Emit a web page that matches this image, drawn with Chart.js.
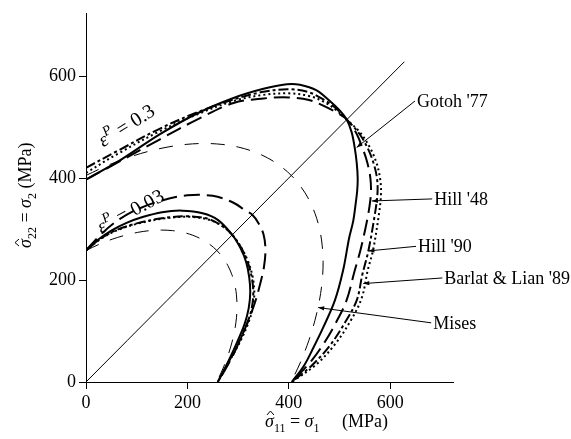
<!DOCTYPE html>
<html>
<head>
<meta charset="utf-8">
<script src="https://cdn.jsdelivr.net/npm/chart.js@4.4.0/dist/chart.umd.min.js"></script>
<style>
  html, body { margin: 0; padding: 0; background: #fff; }
</style>
</head>
<body>
<canvas id="locus" width="571" height="439"></canvas>
<script>
// axis ticks (MPa)
var tickValues = [0, 200, 400, 600];

// yield loci at eps_p = 0.03, points are [sigma1, sigma2]
var gotohInner = [[0,258],[25,280],[50,297],[80,312],[110,323],[150,333],[190,336],[230,331],[260,318],[289,288],[305,262],[316,235],[322,205],[324,175],[321,145],[313,114],[302,87],[290,60],[277,33],[260,0]];
var hill48Inner = [[0,258],[30,290],[60,315],[100,338],[150,356],[200,366],[250,365],[290,352],[315,336],[328,328],[340,312],[350,290],[354,260],[351,225],[343,190],[333,155],[320,120],[305,85],[290,52],[275,25],[260,0]];
var hill90Inner = [[0,258],[30,282],[60,298],[100,311],[150,321],[200,325],[240,320],[270,305],[289,288],[305,265],[318,238],[327,205],[330,175],[327,145],[318,115],[305,85],[291,57],[276,30],[260,0]];
var barlatInner = [[0,258],[30,281],[60,297],[100,310],[150,320],[200,324],[240,319],[270,305],[289,288],[306,264],[320,236],[329,205],[332,175],[329,145],[320,115],[307,85],[292,57],[277,30],[260,0]];
var misesInner = [[0,258],[26,270],[51.7,280],[77.1,287.7],[101.9,293.4],[125.9,296.8],[148.9,297.9],[170.9,296.8],[191.5,293.4],[210.7,287.7],[228.2,279.9],[244,270],[258,258],[270,244],[279.9,228.2],[287.7,210.7],[293.4,191.5],[296.8,170.9],[297.9,148.9],[296.8,125.9],[293.4,101.9],[287.7,77.1],[280,51.7],[270,26],[258,0]];

// yield loci at eps_p = 0.3
var gotohOuter = [[0,397],[66,434],[146,486],[220,527],[291,557],[350,575],[396,584],[422,583],[455,572],[481,551],[500,533],[514,515],[524,490],[530,460],[534,430],[536,400],[535,375],[532,350],[527,315],[519,282],[507,218],[491,160],[468,107],[449,68],[430,32],[406,0]];
var hill48Outer = [[0,397],[60,429],[146,476],[220,515],[291,547],[350,556],[400,558],[440,553],[470,541],[495,528],[514,515],[532,490],[545,460],[555,430],[561,400],[562,370],[558,336],[551,300],[541,257],[530,218],[514,160],[495,120],[472,80],[445,42],[406,0]];
var hill90Outer = [[0,420],[60,452],[146,497],[220,529],[291,554],[350,569],[400,574],[440,568],[470,553],[495,535],[514,515],[537,490],[555,460],[567,430],[574,400],[575,370],[570,330],[557,257],[545,210],[534,160],[510,115],[480,70],[445,32],[406,0]];
var barlatOuter = [[0,410],[60,446],[146,492],[220,525],[291,551],[350,563],[400,566],[440,561],[470,549],[495,532],[514,515],[540,490],[560,460],[573,430],[580,400],[582,370],[578,330],[566,257],[556,220],[544,165],[522,120],[492,75],[455,35],[406,0]];
var misesOuter = [[0,405],[40.7,423.9],[81.2,439.5],[121.1,451.7],[159.9,460.5],[197.6,465.9],[233.8,467.7],[268.2,465.9],[300.6,460.6],[330.7,451.7],[358.3,439.4],[383.1,423.8],[405,405],[423.8,383.1],[439.4,358.3],[451.7,330.7],[460.6,300.6],[465.9,268.2],[467.7,233.8],[465.9,197.6],[460.5,159.9],[451.7,121.1],[439.5,81.2],[423.9,40.7],[405,0]];

// equibiaxial line
var diagonal = [[0,0],[628,628]];

// curve names, label anchor and arrow tip, in MPa
var curveLabels = [
  { text: "Gotoh '77", at: [651, 551], tip: [534, 460] },
  { text: "Hill '48", at: [685, 359], tip: [564, 355] },
  { text: "Hill '90", at: [653, 266], tip: [557, 257] },
  { text: "Barlat & Lian '89", at: [705, 204], tip: [547, 193] },
  { text: "Mises", at: [683, 116], tip: [458, 146] }
];
var strainLabels = [
  { value: '0.3', at: [79, 504], angle: -32 },
  { value: '0.03', at: [87, 336], angle: -28 }
];

var SERIF = "'Liberation Serif', 'Times New Roman', serif";

function pts(arr) {
  return arr.map(function (p) { return { x: p[0], y: p[1] }; });
}

function curve(arr, width, dash) {
  return {
    data: pts(arr),
    showLine: true,
    borderColor: '#000',
    borderWidth: width,
    borderDash: dash,
    pointRadius: 0,
    tension: 0.35,
    fill: false
  };
}

// draws a run of text pieces: {t, italic, sub, sup, hat}
function drawRich(ctx, parts, x, y, big) {
  big = big || 18;
  var small = Math.round(big * 0.68);
  parts.forEach(function (p) {
    var size = (p.sub || p.sup) ? small : big;
    var dy = p.sub ? 5 : (p.sup ? -8 : 0);
    ctx.font = (p.italic ? 'italic ' : '') + size + 'px ' + SERIF;
    var w = ctx.measureText(p.t).width;
    ctx.fillText(p.t, x, y + dy);
    if (p.hat) {
      var cx = x + w / 2 + 1;
      ctx.beginPath();
      ctx.moveTo(cx - 3.5, y - 12);
      ctx.lineTo(cx, y - 16);
      ctx.lineTo(cx + 3.5, y - 12);
      ctx.lineWidth = 1;
      ctx.stroke();
    }
    x += w;
  });
  return x;
}

function richWidth(ctx, parts, big) {
  var small = Math.round(big * 0.68), w = 0;
  parts.forEach(function (p) {
    ctx.font = (p.italic ? 'italic ' : '') + ((p.sub || p.sup) ? small : big) + 'px ' + SERIF;
    w += ctx.measureText(p.t).width;
  });
  return w;
}

var annotate = {
  id: 'annotate',
  afterDatasetsDraw: function (chart) {
    var ctx = chart.ctx;
    var xs = chart.scales.x, ys = chart.scales.y;
    ctx.save();
    ctx.fillStyle = '#000';
    ctx.strokeStyle = '#000';
    ctx.textBaseline = 'alphabetic';

    // leaders and curve names
    curveLabels.forEach(function (l) {
      var lx = xs.getPixelForValue(l.at[0]);
      var ly = ys.getPixelForValue(l.at[1]);
      var tx = xs.getPixelForValue(l.tip[0]);
      var ty = ys.getPixelForValue(l.tip[1]);
      ctx.beginPath();
      ctx.moveTo(lx - 1, ly);
      ctx.lineTo(tx, ty);
      ctx.lineWidth = 1;
      ctx.stroke();
      var a = Math.atan2(ty - ly, tx - lx);
      ctx.beginPath();
      ctx.moveTo(tx, ty);
      ctx.lineTo(tx - 6 * Math.cos(a) + 2.2 * Math.sin(a), ty - 6 * Math.sin(a) - 2.2 * Math.cos(a));
      ctx.lineTo(tx - 6 * Math.cos(a) - 2.2 * Math.sin(a), ty - 6 * Math.sin(a) + 2.2 * Math.cos(a));
      ctx.closePath();
      ctx.fill();
      ctx.font = '18px ' + SERIF;
      ctx.textBaseline = 'middle';
      ctx.fillText(l.text, lx + 1, ly + 1);
      ctx.textBaseline = 'alphabetic';
    });

    // plastic strain labels along the curves
    strainLabels.forEach(function (s) {
      var px = xs.getPixelForValue(s.at[0]);
      var py = ys.getPixelForValue(s.at[1]);
      ctx.save();
      ctx.translate(px, py);
      ctx.rotate(s.angle * Math.PI / 180);
      var parts = [
        { t: '\u03b5', italic: true },
        { t: 'P', italic: true, sup: true },
        { t: ' = ' + s.value }
      ];
      var w = richWidth(ctx, parts, 20);
      drawRich(ctx, parts, -w / 2, 7, 20);
      ctx.restore();
    });

    // axis titles
    drawRich(ctx, [
      { t: '\u03c3', italic: true, hat: true },
      { t: '11', sub: true },
      { t: ' = ' },
      { t: '\u03c3', italic: true },
      { t: '1', sub: true },
      { t: '     (MPa)' }
    ], 265, 427);

    ctx.save();
    ctx.translate(31, 248);
    ctx.rotate(-Math.PI / 2);
    drawRich(ctx, [
      { t: '\u03c3', italic: true, hat: true },
      { t: '22', sub: true },
      { t: ' = ' },
      { t: '\u03c3', italic: true },
      { t: '2', sub: true },
      { t: ' (MPa)' }
    ], 0, 0);
    ctx.restore();

    ctx.restore();
  }
};

function axis(fit) {
  return {
    type: 'linear',
    min: 0,
    afterFit: fit,
    afterBuildTicks: function (s) {
      s.ticks = tickValues.map(function (v) { return { value: v }; });
    },
    grid: { drawOnChartArea: false, drawTicks: true, tickLength: 7, color: '#000', lineWidth: 1 },
    border: { display: true, color: '#000', width: 1 },
    ticks: { color: '#000', font: { family: SERIF, size: 18 }, padding: 3, maxRotation: 0, includeBounds: false }
  };
}

var xAxis = axis(function (s) { s.height = 57; });
xAxis.max = 724;
var yAxis = axis(function (s) { s.width = 86; });
yAxis.max = 722;

new Chart(document.getElementById('locus'), {
  type: 'scatter',
  data: {
    datasets: [
      curve(diagonal, 1, []),
      curve(misesInner, 1, [14, 12]),
      curve(misesOuter, 1, [14, 12]),
      curve(barlatInner, 2, [2, 3]),
      curve(barlatOuter, 2, [2, 3]),
      curve(hill90Inner, 2, [10, 3, 3, 3]),
      curve(hill90Outer, 2, [10, 3, 3, 3]),
      curve(hill48Inner, 2, [16, 7]),
      curve(hill48Outer, 2, [16, 7]),
      curve(gotohInner, 2, []),
      curve(gotohOuter, 2, [])
    ]
  },
  options: {
    responsive: false,
    animation: false,
    devicePixelRatio: 1,
    layout: { padding: { top: 13, right: 118, left: 0, bottom: 0 } },
    plugins: { legend: { display: false }, tooltip: { enabled: false } },
    scales: { x: xAxis, y: yAxis }
  },
  plugins: [annotate]
});
</script>
</body>
</html>
